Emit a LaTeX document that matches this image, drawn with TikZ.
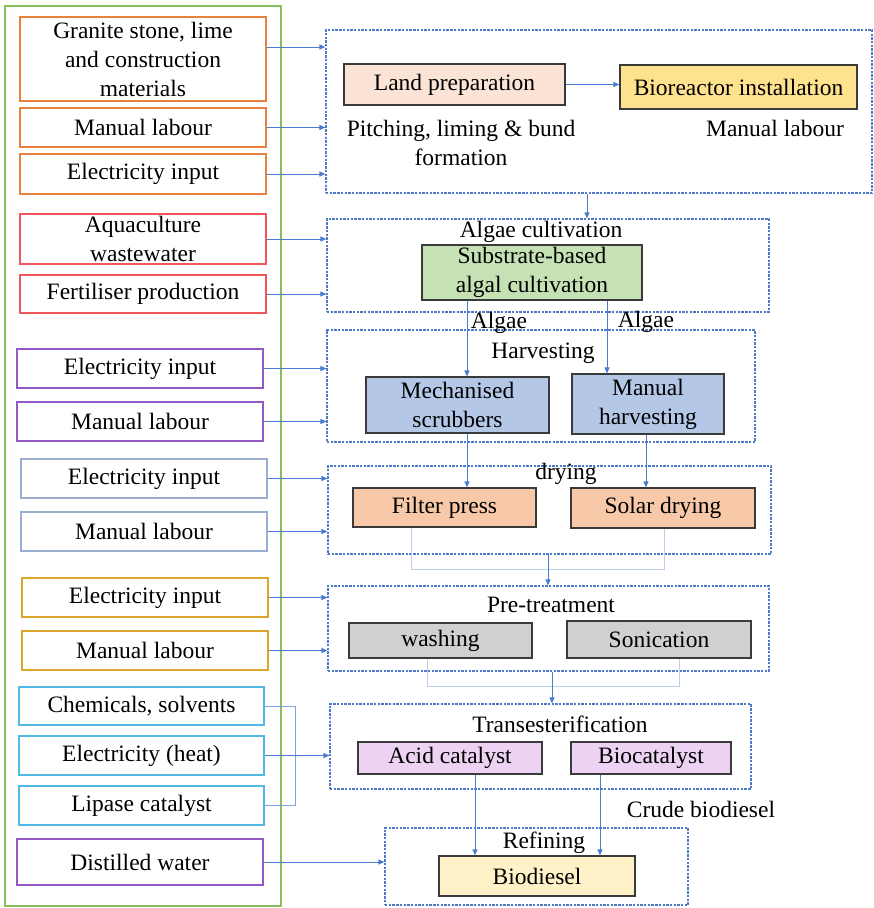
\documentclass[tikz,border=0pt]{standalone}
\usepackage{fontspec}
\setmainfont{Liberation Serif}
\usetikzlibrary{arrows.meta,calc}
\definecolor{cOrange}{HTML}{E8803F}
\definecolor{cRed}{HTML}{F0565A}
\definecolor{cPurple}{HTML}{9457C8}
\definecolor{cGreyBlue}{HTML}{9AAFCF}
\definecolor{cGold}{HTML}{D9A72B}
\definecolor{cCyan}{HTML}{52B8E4}
\definecolor{cGreen}{HTML}{86C05A}
\definecolor{dashblue}{HTML}{4E79C6}
\definecolor{arrblue}{HTML}{4A7BD0}
\definecolor{liteblue}{HTML}{BCD0EE}
\definecolor{brblue}{HTML}{7FA3DC}
\definecolor{boxgray}{HTML}{3A3A3A}
\definecolor{landpink}{HTML}{FBE3D6}
\definecolor{bioyellow}{HTML}{FFE28E}
\definecolor{subgreen}{HTML}{C6E2B5}
\definecolor{harvblue}{HTML}{B4C7E7}
\definecolor{dryorange}{HTML}{F7C9A9}
\definecolor{pregray}{HTML}{D0D0D0}
\definecolor{transpurple}{HTML}{EDD2F3}
\definecolor{biodyellow}{HTML}{FFF2C8}
% \bx{name}{style}{x1}{y1}{x2}{y2}{text}
\newcommand\bx[7]{\node[#2, minimum width={#5-#3}, minimum height={#6-#4}] (#1) at ({(#3+#5)/2},{(#4+#6)/2}) {#7};}
\begin{document}
\begin{tikzpicture}[x=1pt,y=-1pt,
  font=\fontsize{23.5}{29}\selectfont,
  inbox/.style={draw=#1, line width=1.4pt, inner sep=0pt, align=center, fill=white},
  pbox/.style={draw=boxgray, line width=1.2pt, fill=#1, inner sep=0pt, align=center},
  stage/.style={draw=dashblue, line width=1.2pt, dash pattern=on 2.4pt off 1.3pt, inner sep=0pt},
  frame/.style={draw=cGreen, line width=1.5pt, inner sep=0pt},
  arr/.style={draw=arrblue, line width=0.9pt, -{Triangle[length=6pt,width=5pt]}},
  lite/.style={draw=liteblue, line width=1pt},
  brk/.style={draw=brblue, line width=1pt},
  lbl/.style={inner sep=0pt, align=center}]
\useasboundingbox (0,0) rectangle (874,908);

% outer green frame
\bx{outer}{frame}{5}{6}{281}{906}{}

% stage boxes
\bx{s1}{stage}{326}{30}{872}{193}{}
\bx{s2}{stage}{327}{219}{769}{312}{}
\bx{s3}{stage}{327}{330}{755}{442}{}
\bx{s4}{stage}{328}{466}{771}{554}{}
\bx{s5}{stage}{328}{586}{769}{671}{}
\bx{s6}{stage}{330}{704}{751}{789}{}
\bx{s7}{stage}{385}{828}{688}{905}{}

% process boxes
\bx{land}{pbox=landpink}{344}{64}{565}{105}{Land preparation}
\bx{bio}{pbox=bioyellow}{620}{65}{857}{109}{Bioreactor installation}
\bx{sub}{pbox=subgreen}{422}{245}{642}{300}{Substrate-based\\algal cultivation}
\bx{mech}{pbox=harvblue}{366}{377}{549}{433}{Mechanised\\scrubbers}
\bx{mharv}{pbox=harvblue}{572}{374}{724}{434}{Manual\\harvesting}
\bx{filt}{pbox=dryorange}{353}{488}{536}{527}{Filter press}
\bx{solar}{pbox=dryorange}{571}{488}{755}{528}{Solar drying}
\bx{wash}{pbox=pregray}{349}{623}{532}{658}{washing}
\bx{son}{pbox=pregray}{567}{621}{751}{658}{Sonication}
\bx{acid}{pbox=transpurple}{358}{742}{542}{774}{Acid catalyst}
\bx{bcat}{pbox=transpurple}{571}{742}{731}{774}{Biocatalyst}
\bx{biod}{pbox=biodyellow}{439}{856}{635}{896}{Biodiesel}

% labels
\node[lbl] (tpitch) at (461,143) {Pitching, liming \& bund\\formation};
\node[lbl] (tman) at (775,128) {Manual labour};
\node[lbl] (tcult) at (541,232) {Algae cultivation};
\node[lbl] (talg1) at (499,323) {Algae};
\node[lbl] (talg2) at (646,322) {Algae};
\node[lbl] (tharv) at (543,353) {Harvesting};
\node[lbl] (tdry) at (566,474) {drying};
\node[lbl] (tpre) at (551,605) {Pre-treatment};
\node[lbl] (ttrans) at (560,724) {Transesterification};
\node[lbl] (tcrude) at (701,809) {Crude biodiesel};
\node[lbl] (tref) at (544,843) {Refining};

% input boxes
\bx{g1}{inbox=cOrange}{20}{17}{266}{101}{Granite stone, lime\\and construction\\materials}
\bx{g2}{inbox=cOrange}{20}{108}{266}{147}{Manual labour}
\bx{g3}{inbox=cOrange}{20}{154}{266}{194}{Electricity input}
\bx{r1}{inbox=cRed}{20}{214}{266}{264}{Aquaculture\\wastewater}
\bx{r2}{inbox=cRed}{20}{275}{266}{313}{Fertiliser production}
\bx{p1}{inbox=cPurple}{17}{349}{263}{388}{Electricity input}
\bx{p2}{inbox=cPurple}{17}{402}{263}{441}{Manual labour}
\bx{b1}{inbox=cGreyBlue}{21}{459}{267}{498}{Electricity input}
\bx{b2}{inbox=cGreyBlue}{21}{512}{267}{551}{Manual labour}
\bx{y1}{inbox=cGold}{22}{578}{268}{617}{Electricity input}
\bx{y2}{inbox=cGold}{22}{631}{268}{670}{Manual labour}
\bx{c1}{inbox=cCyan}{19}{687}{264}{725}{Chemicals, solvents}
\bx{c2}{inbox=cCyan}{19}{736}{264}{775}{Electricity (heat)}
\bx{c3}{inbox=cCyan}{19}{786}{264}{825}{Lipase catalyst}
\bx{d1}{inbox=cPurple}{17}{839}{263}{885}{Distilled water}

% input arrows
\draw[arr] ([yshift=12pt]g1.east) -- ([yshift=12pt]g1.east -| s1.west);
\draw[arr] (g2.east) -- (g2.east -| s1.west);
\draw[arr] (g3.east) -- (g3.east -| s1.west);
\draw[arr] (r1.east) -- (r1.east -| s2.west);
\draw[arr] (r2.east) -- (r2.east -| s2.west);
\draw[arr] (p1.east) -- (p1.east -| s3.west);
\draw[arr] (p2.east) -- (p2.east -| s3.west);
\draw[arr] (b1.east) -- (b1.east -| s4.west);
\draw[arr] (b2.east) -- (b2.east -| s4.west);
\draw[arr] (y1.east) -- (y1.east -| s5.west);
\draw[arr] (y2.east) -- (y2.east -| s5.west);
\coordinate (bx) at (295,0);
\draw[brk] (c1.east) -- (c1.east -| bx) -- (c3.east -| bx) -- (c3.east);
\draw[arr] (c2.east) -- (c2.east -| s6.west);
\draw[arr] (d1.east) -- (d1.east -| s7.west);

% process flow
\draw[arr] (land.east) -- (land.east -| bio.west);
\coordinate (xs1) at (587,0);
\draw[arr] (s1.south -| xs1) -- (s2.north -| xs1);
\coordinate (xa) at (467,0);
\coordinate (xb) at (607,0);
\coordinate (xc) at (646,0);
\draw[arr] (sub.south -| xa) -- (mech.north -| xa);
\draw[arr] (sub.south -| xb) -- (mharv.north -| xb);
\draw[arr] (mech.south -| xa) -- (filt.north -| xa);
\draw[arr] (mharv.south -| xc) -- (solar.north -| xc);
\coordinate (j1) at (411,569);
\coordinate (j2) at (664,569);
\draw[lite] (filt.south -| j1) -- (j1) -- (j2) -- (solar.south -| j2);
\coordinate (xf) at (548,0);
\draw[arr] (s4.south -| xf) -- (s5.north -| xf);
\coordinate (j3) at (427,686);
\coordinate (j4) at (679,686);
\draw[lite] (wash.south -| j3) -- (j3) -- (j4) -- (son.south -| j4);
\coordinate (xg) at (552,0);
\draw[arr] (s5.south -| xg) -- (s6.north -| xg);
\coordinate (xh) at (475,0);
\coordinate (xi) at (600,0);
\draw[arr] (acid.south -| xh) -- (biod.north -| xh);
\draw[arr] (bcat.south -| xi) -- (biod.north -| xi);
\end{tikzpicture}
\end{document}
